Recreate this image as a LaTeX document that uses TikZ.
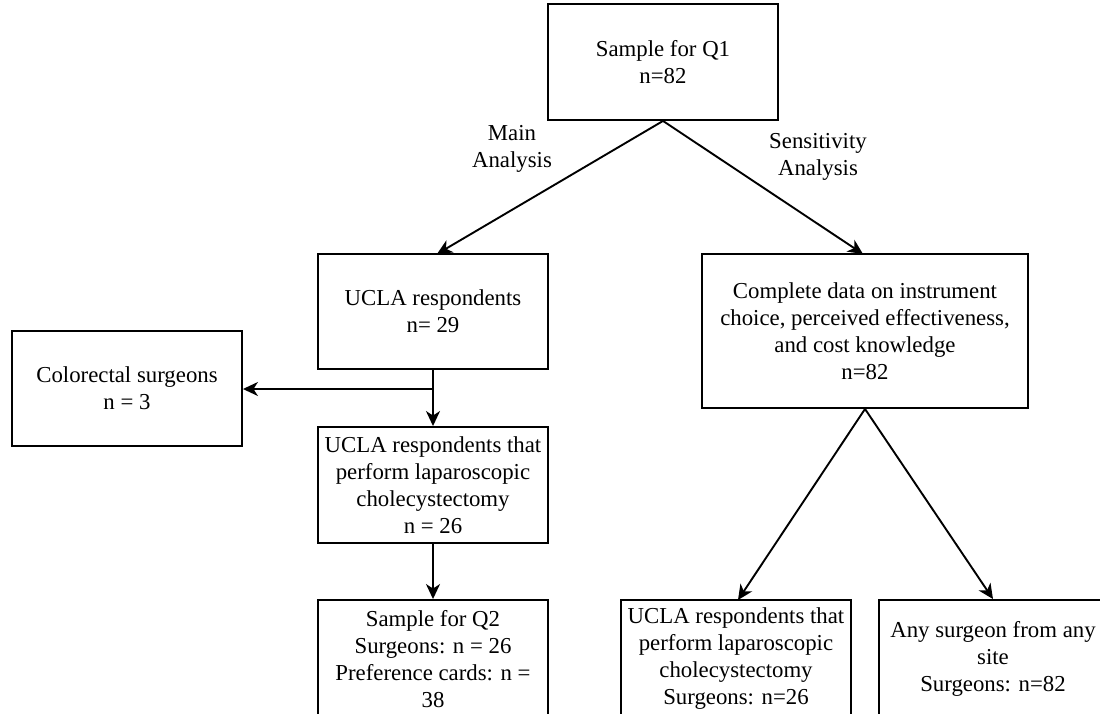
\documentclass[tikz,border=0pt]{standalone}
\usepackage{fontspec}
\setmainfont{Liberation Serif}
\usetikzlibrary{arrows.meta}
\begin{document}
\begin{tikzpicture}[x=1pt,y=-1pt,
  txt/.style={font=\fontsize{22.8}{27}\selectfont},
  box/.style={txt, draw, line width=1.9pt, align=center, inner sep=0pt},
  lbl/.style={txt, align=center, inner sep=0pt},
  link/.style={line width=1.9pt},
  arr/.style={link, -{Stealth[length=15pt,width=14pt,inset=4.5pt]}}]
\useasboundingbox (0,0) rectangle (1100,714);
\clip (0,0) rectangle (1100,714);

% boxes
\node[box, minimum width=230pt, minimum height=116pt] (q1) at (663,62) {Sample for Q1\\n=82};
\node[box, minimum width=230pt, minimum height=115pt] (ucla) at (433,311.5) {UCLA respondents\\n= 29};
\node[box, minimum width=230pt, minimum height=115pt] (colo) at (127,388.5) {Colorectal surgeons\\n = 3};
\node[box, minimum width=230pt, minimum height=116pt] (lap) at (433,485) {UCLA respondents that\\perform laparoscopic\\cholecystectomy\\n = 26};
\node[box, minimum width=230pt, minimum height=118pt] (q2) at (433,659) {Sample for Q2\\Surgeons: n = 26\\Preference cards: n =\\38};
\node[box, minimum width=326pt, minimum height=154pt] (comp) at (865,331) {Complete data on instrument\\choice, perceived effectiveness,\\and cost knowledge\\n=82};
\node[box, minimum width=230pt, minimum height=118pt] (laps) at (736,659) {UCLA respondents that\\perform laparoscopic\\cholecystectomy\\Surgeons: n=26};
\node[box, minimum width=228pt, minimum height=118pt] (any) at (993,659) {Any surgeon from any\\site\\Surgeons: n=82};

% branch labels
\node[lbl] (main) at (512,149) {Main\\Analysis};
\node[lbl] (sens) at (818,157) {Sensitivity\\Analysis};

% connectors
\draw[arr] (q1.south) -- (437,254);
\draw[arr] (q1.south) -- (863,254);
\coordinate (j) at (433,389);
\draw[link] (ucla.south) -- (j);
\draw[arr] (j) -- (lap.north);
\draw[arr] (j) -- (j -| colo.east);
\draw[arr] (lap.south) -- (q2.north);
\draw[arr] (comp.south) -- (738,600);
\draw[arr] (comp.south) -- (any.north);
\end{tikzpicture}
\end{document}
